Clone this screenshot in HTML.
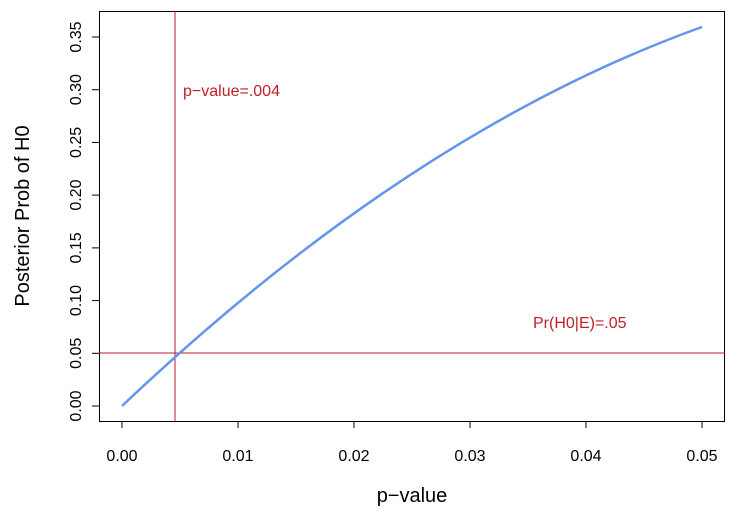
<!DOCTYPE html>
<html><head><style>body{margin:0;background:#fff}svg{display:block}text{font-family:"Liberation Sans",Arial,sans-serif}</style></head><body>
<svg width="737" height="516" viewBox="0 0 737 516">
<rect x="99.5" y="11.5" width="625" height="410" fill="none" stroke="#000" stroke-width="1"/>
<g stroke="#000" stroke-width="1">
<line x1="122" y1="421.5" x2="702" y2="421.5"/>
<line x1="122" y1="421" x2="122" y2="428"/><line x1="238" y1="421" x2="238" y2="428"/><line x1="354" y1="421" x2="354" y2="428"/><line x1="470" y1="421" x2="470" y2="428"/><line x1="586" y1="421" x2="586" y2="428"/><line x1="702" y1="421" x2="702" y2="428"/>
<line x1="92" y1="406" x2="99" y2="406"/><line x1="92" y1="353.3" x2="99" y2="353.3"/><line x1="92" y1="300.6" x2="99" y2="300.6"/><line x1="92" y1="247.9" x2="99" y2="247.9"/><line x1="92" y1="195.1" x2="99" y2="195.1"/><line x1="92" y1="142.4" x2="99" y2="142.4"/><line x1="92" y1="89.7" x2="99" y2="89.7"/><line x1="92" y1="37" x2="99" y2="37"/>
</g>
<g font-size="16" text-anchor="middle">
<text x="122" y="461">0.00</text><text x="238" y="461">0.01</text><text x="354" y="461">0.02</text><text x="470" y="461">0.03</text><text x="586" y="461">0.04</text><text x="702" y="461">0.05</text>
<text transform="translate(81,406) rotate(-90)">0.00</text>
<text transform="translate(81,353.3) rotate(-90)">0.05</text>
<text transform="translate(81,300.6) rotate(-90)">0.10</text>
<text transform="translate(81,247.9) rotate(-90)">0.15</text>
<text transform="translate(81,195.1) rotate(-90)">0.20</text>
<text transform="translate(81,142.4) rotate(-90)">0.25</text>
<text transform="translate(81,89.7) rotate(-90)">0.30</text>
<text transform="translate(81,37) rotate(-90)">0.35</text>
</g>
<text x="412" y="502" font-size="20" text-anchor="middle">p−value</text>
<text transform="translate(29,216) rotate(-90)" font-size="20" text-anchor="middle">Posterior Prob of H0</text>
<line x1="175" y1="11" x2="175" y2="421" stroke="#b81c2c" stroke-width="1"/>
<line x1="99" y1="353" x2="725" y2="353" stroke="#b81c2c" stroke-width="1"/>
<text x="183" y="96" font-size="16" fill="#c0202a">p−value=.004</text>
<text x="533" y="328" font-size="16" fill="#c0202a">Pr(H0|E)=.05</text>
<path d="M122,406 Q412,131 702,27" fill="none" stroke="#6495ed" stroke-width="2.5"/>
</svg>
</body></html>
